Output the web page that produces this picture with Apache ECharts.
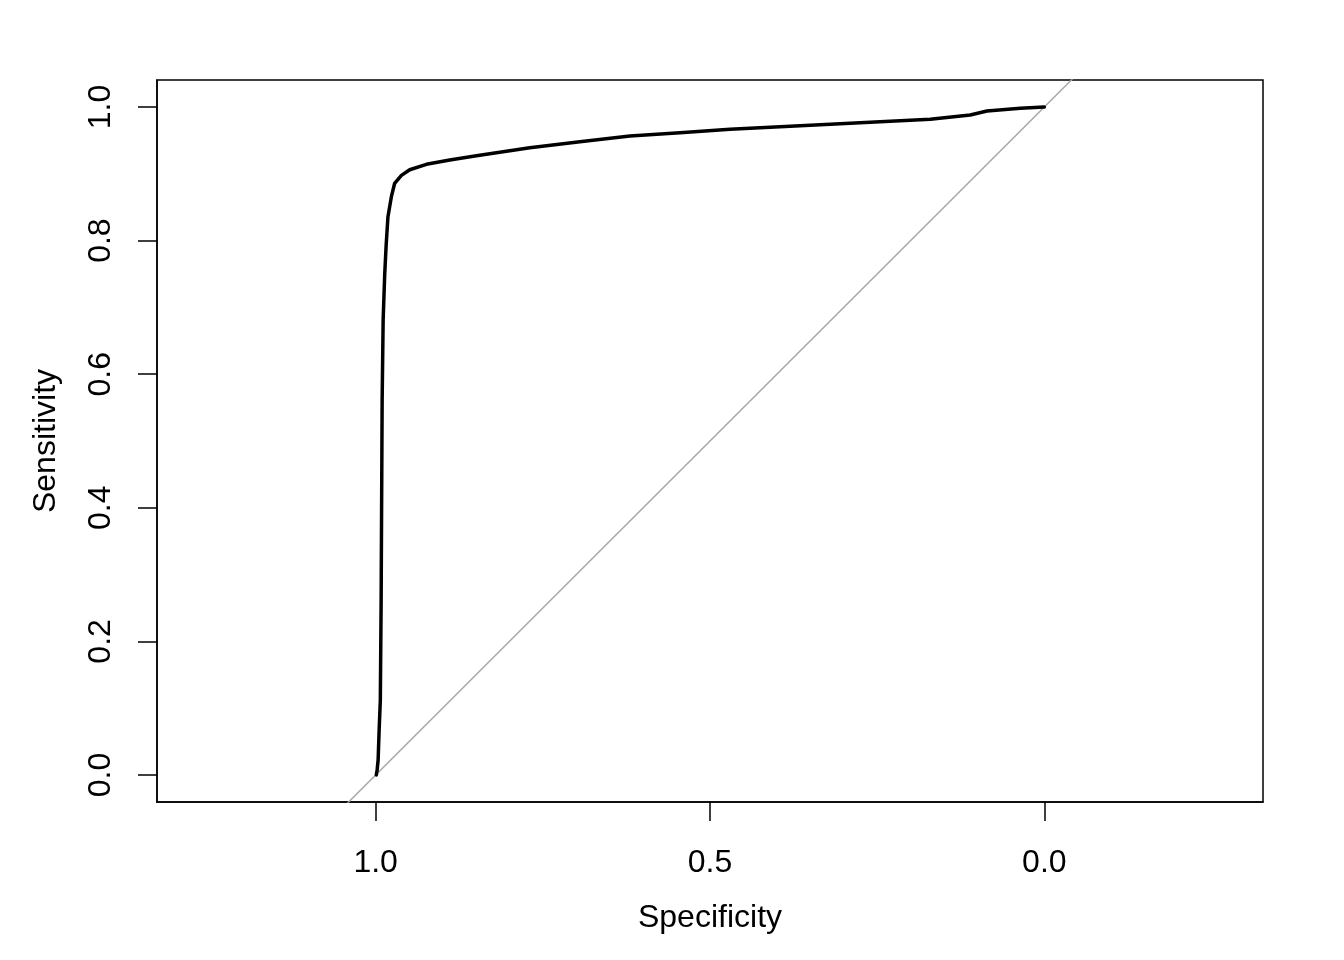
<!DOCTYPE html>
<html>
<head>
<meta charset="utf-8">
<script src="https://cdn.jsdelivr.net/npm/echarts@6/dist/echarts.min.js"></script>
<style>html,body{margin:0;padding:0;background:#fff}#c{width:1344px;height:960px}</style>
</head>
<body>
<div id="c"></div>
<script>
// ROC curve
const specificity = [0.999, 0.9978, 0.9963, 0.9948, 0.993, 0.9918, 0.9903, 0.9888, 0.9865, 0.9843, 0.9816, 0.9765, 0.9716, 0.9615, 0.9491, 0.9241, 0.8892, 0.8493, 0.7695, 0.6946, 0.6198, 0.5449, 0.4701, 0.3952, 0.2605, 0.1707, 0.1108, 0.0858, 0.0359, 0.0];
const sensitivity = [0.0, 0.0075, 0.0225, 0.0674, 0.1123, 0.262, 0.5614, 0.681, 0.7485, 0.7934, 0.8358, 0.8657, 0.8858, 0.8976, 0.9061, 0.9142, 0.9207, 0.9271, 0.9391, 0.9481, 0.9566, 0.9615, 0.9666, 0.9705, 0.9771, 0.9816, 0.988, 0.994, 0.9981, 1.0];
const xTicks = [0, 0.5, 1.0];
const yTicks = [0, 0.2, 0.4, 0.6, 0.8, 1.0];
const xRange = [-0.327, 1.327];
const yRange = [-0.0404, 1.0404];

const roc = specificity.map((s, i) => [s, sensitivity[i]]);
const diag = [[xRange[1], 1 - xRange[1]], [xRange[0], 1 - xRange[0]]];

const font = 'Liberation Sans, Arial, Helvetica, sans-serif';
const chart = echarts.init(document.getElementById('c'), null, {renderer: 'canvas'});
chart.setOption({
  animation: false,
  backgroundColor: '#ffffff',
  grid: {left: 157, right: 81, top: 80, bottom: 158, show: true, borderColor: '#000', borderWidth: 1.5, backgroundColor: 'transparent'},
  xAxis: {
    type: 'value', inverse: true, min: xRange[0], max: xRange[1],
    name: 'Specificity', nameLocation: 'middle', nameGap: 100,
    nameTextStyle: {fontFamily: font, fontSize: 32, color: '#000'},
    splitLine: {show: false},
    axisLine: {show: true, onZero: false, lineStyle: {color: '#000', width: 1.5}},
    axisTick: {show: true, length: 19, customValues: xTicks, lineStyle: {color: '#000', width: 1.5}},
    axisLabel: {customValues: xTicks, margin: 45, fontFamily: font, fontSize: 32, color: '#000', formatter: v => v.toFixed(1)}
  },
  yAxis: {
    type: 'value', min: yRange[0], max: yRange[1],
    name: 'Sensitivity', nameLocation: 'middle', nameGap: 95,
    nameTextStyle: {fontFamily: font, fontSize: 32, color: '#000'},
    splitLine: {show: false},
    axisLine: {show: true, onZero: false, lineStyle: {color: '#000', width: 1.5}},
    axisTick: {show: true, length: 19, customValues: yTicks, lineStyle: {color: '#000', width: 1.5}},
    axisLabel: {customValues: yTicks, rotate: 90, margin: 40, fontFamily: font, fontSize: 32, color: '#000', formatter: v => v.toFixed(1)}
  },
  series: [
    {type: 'line', data: diag, symbol: 'none', silent: true, clip: true,
     lineStyle: {color: '#a9a9a9', width: 1.5}, z: 1},
    {type: 'line', data: roc, symbol: 'none', smooth: false, clip: true,
     lineStyle: {color: '#000', width: 3.5, cap: 'round', join: 'round'}, z: 2}
  ]
});
</script>
</body>
</html>
